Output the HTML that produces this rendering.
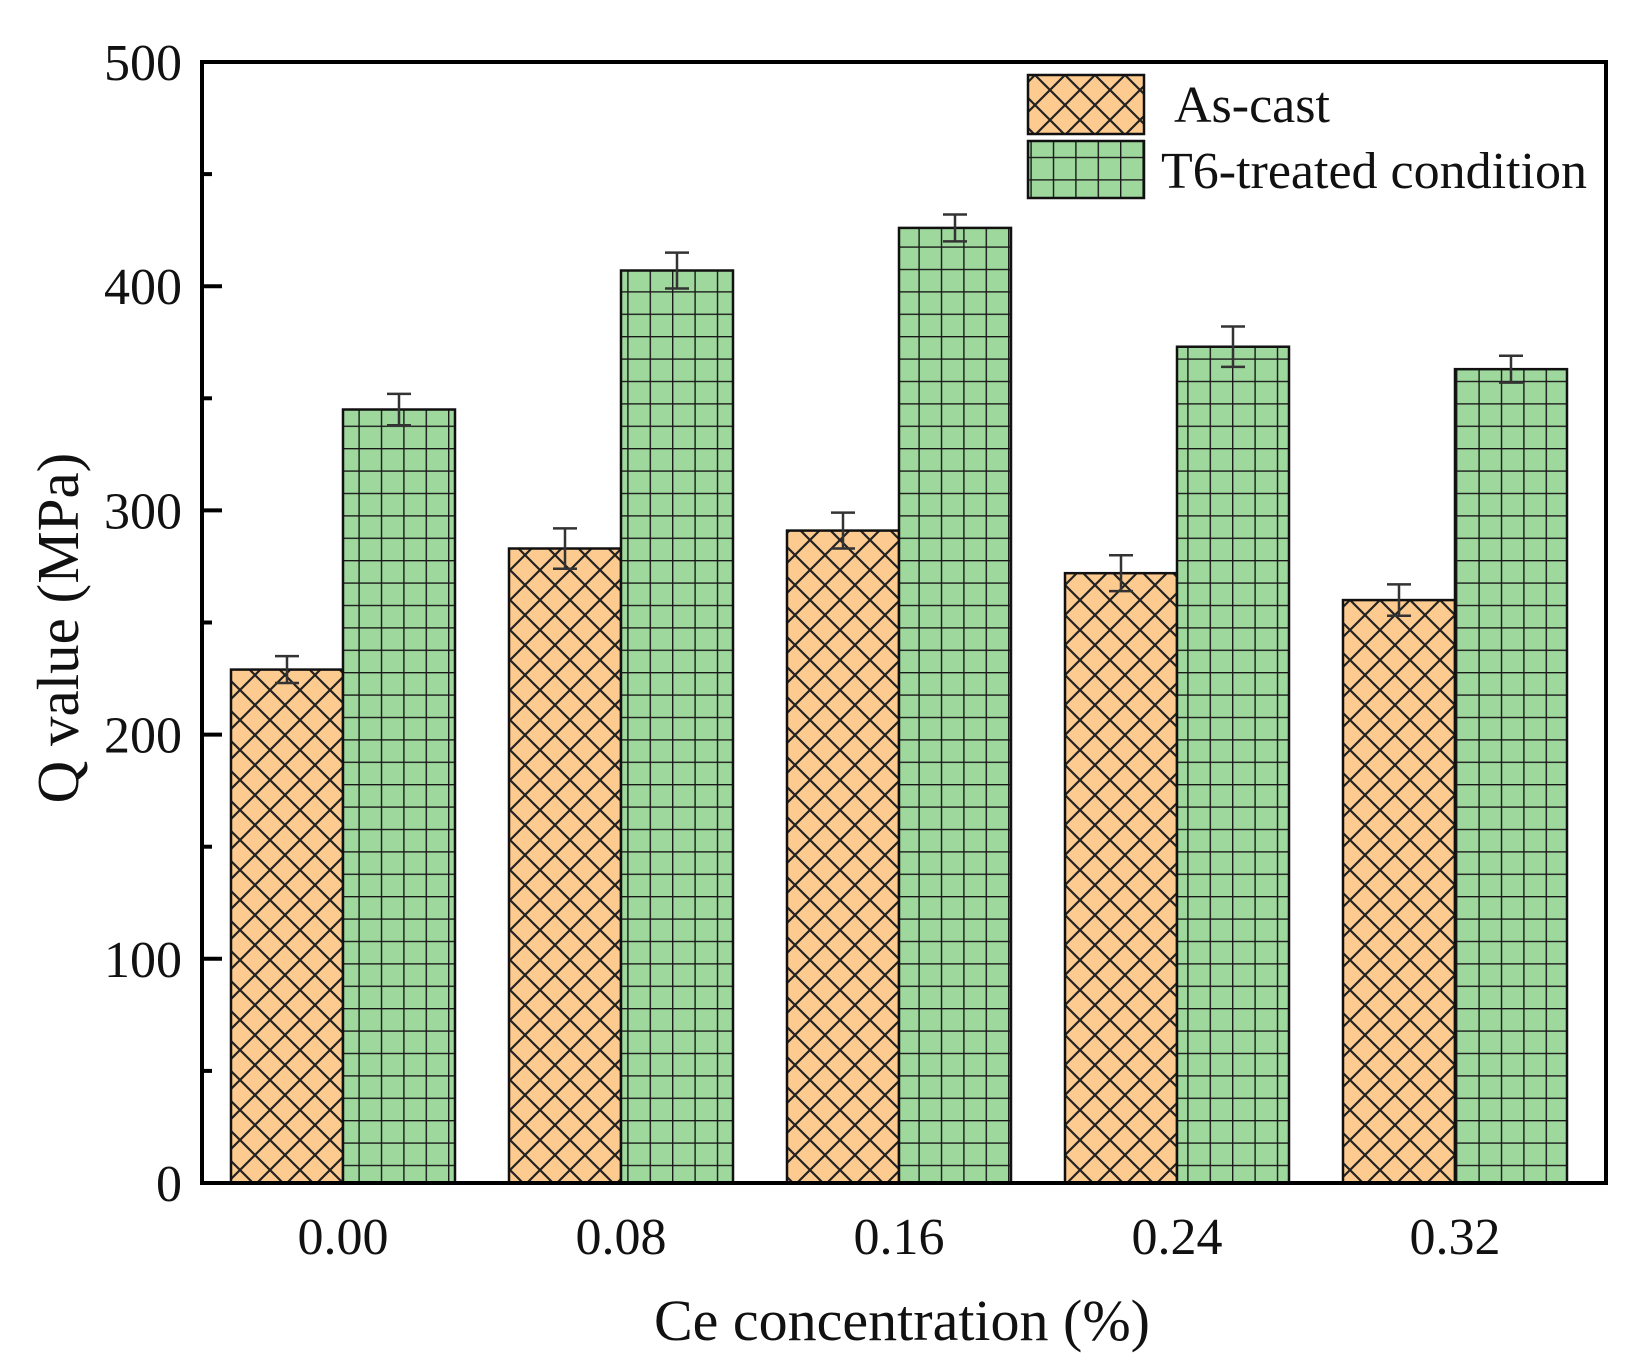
<!DOCTYPE html>
<html><head><meta charset="utf-8"><style>
html,body{margin:0;padding:0;background:#fff}
svg{display:block}
text{font-family:"Liberation Serif",serif;fill:#111}
</style></head><body>
<svg id="chart" width="1633" height="1368" viewBox="0 0 1633 1368">
<defs>
<pattern id="cross" patternUnits="userSpaceOnUse" width="30" height="30" x="0" y="0">
<rect width="30" height="30" fill="#fdca8f"/>
<path d="M0,0 L30,30 M30,0 L0,30" stroke="#222" stroke-width="2.2"/>
</pattern>
<pattern id="grid" patternUnits="userSpaceOnUse" width="22.4" height="22.4" x="0" y="0">
<rect width="22.4" height="22.4" fill="#9ed89c"/>
<path d="M0,0 H22.4 M0,0 V22.4" stroke="#1a1a1a" stroke-width="2.8"/>
</pattern>
</defs>
<g id="bars"></g>
<g id="axes"></g>
<g>
<rect x="1028" y="75" width="116" height="59" fill="url(#cross)" stroke="#111" stroke-width="2.5"/>
<text x="1174" y="122" font-size="52">As-cast</text>
<rect x="1028" y="141" width="116" height="57" fill="url(#grid)" stroke="#111" stroke-width="2.5"/>
<text x="1161" y="188" font-size="52">T6-treated condition</text>
</g>
<text x="902" y="1340" font-size="58" text-anchor="middle">Ce concentration (%)</text>
<text transform="translate(78,628) rotate(-90)" font-size="59" text-anchor="middle">Q value (MPa)</text>
</svg>
<script>
const categories = ["0.00","0.08","0.16","0.24","0.32"];
const asCast = [229, 283, 291, 272, 260];
const asCastErr = [6, 9, 8, 8, 7];
const t6 = [345, 407, 426, 373, 363];
const t6Err = [7, 8, 6, 9, 6];
const yTicks = [0, 100, 200, 300, 400, 500];

const NS = "http://www.w3.org/2000/svg";
const L = 202, R = 1606, T = 62, B = 1183;
const y = v => B - (v / 500) * (B - T);
const xc = i => 343 + i * 278;
const BW = 112;
function mk(tag, attrs, parent){const e=document.createElementNS(NS,tag);for(const k in attrs)e.setAttribute(k,attrs[k]);parent.appendChild(e);return e;}
const bars = document.getElementById('bars');
const axes = document.getElementById('axes');
function errbar(cx, v, e, name){
  const g = mk('g', {}, bars);
  
  
  mk('path', {d:`M${cx},${y(v+e)} V${y(v-e)} M${cx-12},${y(v+e)} H${cx+12} M${cx-12},${y(v-e)} H${cx+12}`, stroke:'#333', 'stroke-width':2.5, fill:'none'}, g);
}
categories.forEach((c,i)=>{
  const a = mk('rect', {x:xc(i)-BW, y:y(asCast[i]), width:BW, height:B-y(asCast[i]), fill:'url(#cross)', stroke:'#111','stroke-width':2.5}, bars);
  
  
  const t = mk('rect', {x:xc(i), y:y(t6[i]), width:BW, height:B-y(t6[i]), fill:'url(#grid)', stroke:'#111','stroke-width':2.5}, bars);
  
  
  errbar(xc(i)-BW/2, asCast[i], asCastErr[i], 'error-bar-as-cast-' + c);
  errbar(xc(i)+BW/2, t6[i], t6Err[i], 'error-bar-t6-' + c);
  const lb = mk('text', {x:xc(i), y:1254, 'font-size':52, 'text-anchor':'middle'}, axes);
  lb.textContent = c;
  
  
});
const frame = mk('rect', {x:L, y:T, width:R-L, height:B-T, fill:'none', stroke:'#000', 'stroke-width':4}, axes);


for(let v=0; v<=500; v+=50){
  const major = v % 100 === 0;
  mk('line', {x1:L, x2:L+(major?20:10), y1:y(v), y2:y(v), stroke:'#000', 'stroke-width':4}, axes);
}
yTicks.forEach(v=>{
  const t = mk('text', {x:182, y:y(v)+18, 'font-size':52, 'text-anchor':'end'}, axes);
  t.textContent = v;
  
  
});
</script>
</body></html>
